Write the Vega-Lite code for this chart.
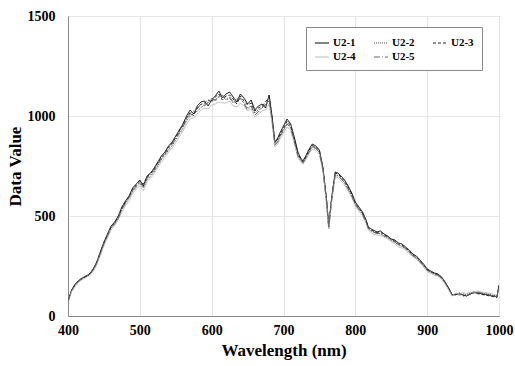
{
  "$schema": "https://vega.github.io/schema/vega-lite/v6.json",
  "width": 431,
  "height": 300,
  "autosize": "none",
  "padding": {"left": 68, "top": 16, "right": 16, "bottom": 50},
  "background": "white",
  "config": {
    "font": "Liberation Serif",
    "view": {"stroke": "#888888", "strokeWidth": 1},
    "axis": {
      "labelFont": "Liberation Serif",
      "labelFontWeight": "bold",
      "labelFontSize": 14,
      "labelColor": "black",
      "titleFont": "Liberation Serif",
      "titleFontWeight": "bold",
      "titleFontSize": 17,
      "titleColor": "black",
      "gridColor": "#e4e4e4",
      "gridWidth": 1,
      "domainColor": "#888888",
      "ticks": false,
      "format": "d"
    },
    "legend": {
      "labelFont": "Liberation Serif",
      "labelFontWeight": "bold",
      "labelFontSize": 11,
      "labelColor": "black"
    }
  },
  "data": {
    "values": [
      {"w":400,"U2-1":75,"U2-2":72,"U2-3":74,"U2-4":70,"U2-5":73},
      {"w":405,"U2-1":130,"U2-2":125,"U2-3":128,"U2-4":122,"U2-5":127},
      {"w":410,"U2-1":160,"U2-2":152,"U2-3":158,"U2-4":148,"U2-5":155},
      {"w":415,"U2-1":178,"U2-2":172,"U2-3":176,"U2-4":170,"U2-5":174},
      {"w":420,"U2-1":190,"U2-2":186,"U2-3":192,"U2-4":182,"U2-5":188},
      {"w":425,"U2-1":200,"U2-2":196,"U2-3":198,"U2-4":192,"U2-5":197},
      {"w":430,"U2-1":210,"U2-2":205,"U2-3":212,"U2-4":202,"U2-5":208},
      {"w":435,"U2-1":235,"U2-2":228,"U2-3":232,"U2-4":222,"U2-5":230},
      {"w":440,"U2-1":270,"U2-2":262,"U2-3":266,"U2-4":255,"U2-5":264},
      {"w":445,"U2-1":320,"U2-2":310,"U2-3":315,"U2-4":302,"U2-5":312},
      {"w":450,"U2-1":370,"U2-2":360,"U2-3":365,"U2-4":350,"U2-5":362},
      {"w":455,"U2-1":410,"U2-2":398,"U2-3":405,"U2-4":392,"U2-5":402},
      {"w":460,"U2-1":450,"U2-2":440,"U2-3":446,"U2-4":430,"U2-5":442},
      {"w":465,"U2-1":470,"U2-2":462,"U2-3":468,"U2-4":452,"U2-5":460},
      {"w":470,"U2-1":500,"U2-2":488,"U2-3":495,"U2-4":480,"U2-5":490},
      {"w":475,"U2-1":545,"U2-2":530,"U2-3":540,"U2-4":520,"U2-5":535},
      {"w":480,"U2-1":575,"U2-2":562,"U2-3":570,"U2-4":552,"U2-5":565},
      {"w":485,"U2-1":600,"U2-2":590,"U2-3":598,"U2-4":575,"U2-5":592},
      {"w":490,"U2-1":640,"U2-2":622,"U2-3":632,"U2-4":612,"U2-5":628},
      {"w":495,"U2-1":660,"U2-2":645,"U2-3":655,"U2-4":635,"U2-5":650},
      {"w":500,"U2-1":680,"U2-2":662,"U2-3":672,"U2-4":650,"U2-5":668},
      {"w":505,"U2-1":650,"U2-2":640,"U2-3":660,"U2-4":625,"U2-5":645},
      {"w":510,"U2-1":700,"U2-2":680,"U2-3":695,"U2-4":672,"U2-5":690},
      {"w":515,"U2-1":715,"U2-2":700,"U2-3":712,"U2-4":690,"U2-5":705},
      {"w":520,"U2-1":740,"U2-2":722,"U2-3":735,"U2-4":712,"U2-5":730},
      {"w":525,"U2-1":770,"U2-2":752,"U2-3":765,"U2-4":742,"U2-5":760},
      {"w":530,"U2-1":800,"U2-2":782,"U2-3":792,"U2-4":770,"U2-5":788},
      {"w":535,"U2-1":820,"U2-2":805,"U2-3":815,"U2-4":792,"U2-5":810},
      {"w":540,"U2-1":850,"U2-2":830,"U2-3":845,"U2-4":820,"U2-5":838},
      {"w":545,"U2-1":870,"U2-2":852,"U2-3":865,"U2-4":840,"U2-5":860},
      {"w":550,"U2-1":900,"U2-2":880,"U2-3":892,"U2-4":868,"U2-5":888},
      {"w":555,"U2-1":930,"U2-2":910,"U2-3":925,"U2-4":895,"U2-5":918},
      {"w":560,"U2-1":960,"U2-2":938,"U2-3":952,"U2-4":925,"U2-5":948},
      {"w":565,"U2-1":1000,"U2-2":975,"U2-3":990,"U2-4":960,"U2-5":985},
      {"w":570,"U2-1":1030,"U2-2":1000,"U2-3":1018,"U2-4":985,"U2-5":1010},
      {"w":575,"U2-1":1010,"U2-2":1015,"U2-3":1000,"U2-4":990,"U2-5":1025},
      {"w":580,"U2-1":1050,"U2-2":1025,"U2-3":1042,"U2-4":1010,"U2-5":1035},
      {"w":585,"U2-1":1070,"U2-2":1040,"U2-3":1058,"U2-4":1030,"U2-5":1060},
      {"w":590,"U2-1":1075,"U2-2":1060,"U2-3":1065,"U2-4":1040,"U2-5":1050},
      {"w":595,"U2-1":1050,"U2-2":1065,"U2-3":1080,"U2-4":1035,"U2-5":1070},
      {"w":600,"U2-1":1080,"U2-2":1090,"U2-3":1070,"U2-4":1055,"U2-5":1085},
      {"w":605,"U2-1":1100,"U2-2":1075,"U2-3":1095,"U2-4":1060,"U2-5":1080},
      {"w":610,"U2-1":1125,"U2-2":1095,"U2-3":1110,"U2-4":1070,"U2-5":1100},
      {"w":615,"U2-1":1090,"U2-2":1100,"U2-3":1080,"U2-4":1065,"U2-5":1105},
      {"w":620,"U2-1":1110,"U2-2":1080,"U2-3":1100,"U2-4":1065,"U2-5":1085},
      {"w":625,"U2-1":1120,"U2-2":1090,"U2-3":1105,"U2-4":1075,"U2-5":1095},
      {"w":630,"U2-1":1095,"U2-2":1065,"U2-3":1085,"U2-4":1050,"U2-5":1070},
      {"w":635,"U2-1":1070,"U2-2":1080,"U2-3":1060,"U2-4":1045,"U2-5":1085},
      {"w":640,"U2-1":1110,"U2-2":1085,"U2-3":1100,"U2-4":1065,"U2-5":1090},
      {"w":645,"U2-1":1090,"U2-2":1065,"U2-3":1075,"U2-4":1050,"U2-5":1060},
      {"w":650,"U2-1":1060,"U2-2":1040,"U2-3":1055,"U2-4":1025,"U2-5":1030},
      {"w":655,"U2-1":1080,"U2-2":1050,"U2-3":1065,"U2-4":1035,"U2-5":1050},
      {"w":660,"U2-1":1030,"U2-2":1015,"U2-3":1025,"U2-4":995,"U2-5":1005},
      {"w":665,"U2-1":1050,"U2-2":1030,"U2-3":1040,"U2-4":1010,"U2-5":1020},
      {"w":670,"U2-1":1060,"U2-2":1040,"U2-3":1050,"U2-4":1025,"U2-5":1045},
      {"w":675,"U2-1":1040,"U2-2":1060,"U2-3":1070,"U2-4":1030,"U2-5":1055},
      {"w":680,"U2-1":1105,"U2-2":1075,"U2-3":1095,"U2-4":1060,"U2-5":1080},
      {"w":684,"U2-1":1000,"U2-2":985,"U2-3":995,"U2-4":965,"U2-5":985},
      {"w":688,"U2-1":870,"U2-2":860,"U2-3":865,"U2-4":845,"U2-5":855},
      {"w":692,"U2-1":890,"U2-2":875,"U2-3":885,"U2-4":860,"U2-5":870},
      {"w":695,"U2-1":915,"U2-2":900,"U2-3":905,"U2-4":885,"U2-5":895},
      {"w":700,"U2-1":950,"U2-2":930,"U2-3":940,"U2-4":915,"U2-5":930},
      {"w":705,"U2-1":985,"U2-2":962,"U2-3":975,"U2-4":945,"U2-5":960},
      {"w":710,"U2-1":960,"U2-2":945,"U2-3":952,"U2-4":930,"U2-5":940},
      {"w":716,"U2-1":880,"U2-2":862,"U2-3":870,"U2-4":850,"U2-5":860},
      {"w":720,"U2-1":820,"U2-2":805,"U2-3":812,"U2-4":792,"U2-5":800},
      {"w":724,"U2-1":790,"U2-2":780,"U2-3":785,"U2-4":770,"U2-5":775},
      {"w":727,"U2-1":775,"U2-2":768,"U2-3":772,"U2-4":758,"U2-5":765},
      {"w":731,"U2-1":800,"U2-2":790,"U2-3":795,"U2-4":780,"U2-5":788},
      {"w":735,"U2-1":830,"U2-2":818,"U2-3":825,"U2-4":808,"U2-5":815},
      {"w":740,"U2-1":860,"U2-2":845,"U2-3":852,"U2-4":835,"U2-5":845},
      {"w":745,"U2-1":850,"U2-2":840,"U2-3":845,"U2-4":828,"U2-5":838},
      {"w":750,"U2-1":830,"U2-2":818,"U2-3":825,"U2-4":808,"U2-5":818},
      {"w":755,"U2-1":740,"U2-2":730,"U2-3":735,"U2-4":720,"U2-5":728},
      {"w":760,"U2-1":580,"U2-2":570,"U2-3":575,"U2-4":560,"U2-5":565},
      {"w":763,"U2-1":450,"U2-2":440,"U2-3":445,"U2-4":435,"U2-5":440},
      {"w":767,"U2-1":590,"U2-2":580,"U2-3":585,"U2-4":570,"U2-5":578},
      {"w":772,"U2-1":720,"U2-2":708,"U2-3":715,"U2-4":698,"U2-5":708},
      {"w":776,"U2-1":715,"U2-2":700,"U2-3":710,"U2-4":692,"U2-5":702},
      {"w":780,"U2-1":700,"U2-2":688,"U2-3":695,"U2-4":678,"U2-5":688},
      {"w":785,"U2-1":680,"U2-2":668,"U2-3":675,"U2-4":655,"U2-5":665},
      {"w":790,"U2-1":650,"U2-2":638,"U2-3":645,"U2-4":625,"U2-5":635},
      {"w":795,"U2-1":615,"U2-2":602,"U2-3":610,"U2-4":592,"U2-5":600},
      {"w":800,"U2-1":570,"U2-2":560,"U2-3":565,"U2-4":550,"U2-5":558},
      {"w":805,"U2-1":545,"U2-2":535,"U2-3":540,"U2-4":525,"U2-5":532},
      {"w":810,"U2-1":520,"U2-2":510,"U2-3":515,"U2-4":500,"U2-5":508},
      {"w":815,"U2-1":480,"U2-2":470,"U2-3":476,"U2-4":462,"U2-5":470},
      {"w":818,"U2-1":445,"U2-2":438,"U2-3":442,"U2-4":430,"U2-5":438},
      {"w":822,"U2-1":435,"U2-2":425,"U2-3":430,"U2-4":418,"U2-5":428},
      {"w":825,"U2-1":430,"U2-2":420,"U2-3":425,"U2-4":410,"U2-5":420},
      {"w":830,"U2-1":420,"U2-2":415,"U2-3":418,"U2-4":405,"U2-5":412},
      {"w":835,"U2-1":425,"U2-2":410,"U2-3":420,"U2-4":402,"U2-5":415},
      {"w":840,"U2-1":410,"U2-2":400,"U2-3":405,"U2-4":395,"U2-5":400},
      {"w":845,"U2-1":400,"U2-2":392,"U2-3":398,"U2-4":385,"U2-5":395},
      {"w":850,"U2-1":385,"U2-2":378,"U2-3":382,"U2-4":370,"U2-5":378},
      {"w":855,"U2-1":380,"U2-2":368,"U2-3":375,"U2-4":362,"U2-5":372},
      {"w":860,"U2-1":365,"U2-2":355,"U2-3":360,"U2-4":345,"U2-5":355},
      {"w":865,"U2-1":360,"U2-2":348,"U2-3":355,"U2-4":340,"U2-5":350},
      {"w":870,"U2-1":345,"U2-2":335,"U2-3":340,"U2-4":330,"U2-5":338},
      {"w":875,"U2-1":330,"U2-2":318,"U2-3":325,"U2-4":312,"U2-5":322},
      {"w":880,"U2-1":310,"U2-2":300,"U2-3":305,"U2-4":295,"U2-5":302},
      {"w":885,"U2-1":300,"U2-2":290,"U2-3":295,"U2-4":285,"U2-5":292},
      {"w":890,"U2-1":280,"U2-2":272,"U2-3":276,"U2-4":265,"U2-5":272},
      {"w":895,"U2-1":260,"U2-2":250,"U2-3":255,"U2-4":245,"U2-5":252},
      {"w":900,"U2-1":235,"U2-2":228,"U2-3":232,"U2-4":222,"U2-5":228},
      {"w":905,"U2-1":225,"U2-2":218,"U2-3":222,"U2-4":212,"U2-5":220},
      {"w":910,"U2-1":215,"U2-2":210,"U2-3":212,"U2-4":205,"U2-5":210},
      {"w":915,"U2-1":210,"U2-2":202,"U2-3":206,"U2-4":198,"U2-5":204},
      {"w":920,"U2-1":195,"U2-2":190,"U2-3":192,"U2-4":185,"U2-5":190},
      {"w":925,"U2-1":170,"U2-2":165,"U2-3":168,"U2-4":160,"U2-5":166},
      {"w":930,"U2-1":140,"U2-2":135,"U2-3":138,"U2-4":130,"U2-5":135},
      {"w":935,"U2-1":105,"U2-2":102,"U2-3":104,"U2-4":100,"U2-5":103},
      {"w":940,"U2-1":108,"U2-2":112,"U2-3":106,"U2-4":115,"U2-5":110},
      {"w":945,"U2-1":112,"U2-2":108,"U2-3":115,"U2-4":110,"U2-5":105},
      {"w":950,"U2-1":105,"U2-2":110,"U2-3":100,"U2-4":118,"U2-5":108},
      {"w":955,"U2-1":100,"U2-2":108,"U2-3":104,"U2-4":112,"U2-5":102},
      {"w":960,"U2-1":110,"U2-2":115,"U2-3":108,"U2-4":120,"U2-5":112},
      {"w":965,"U2-1":118,"U2-2":112,"U2-3":120,"U2-4":115,"U2-5":122},
      {"w":970,"U2-1":115,"U2-2":120,"U2-3":112,"U2-4":125,"U2-5":118},
      {"w":975,"U2-1":112,"U2-2":118,"U2-3":108,"U2-4":120,"U2-5":114},
      {"w":980,"U2-1":108,"U2-2":112,"U2-3":105,"U2-4":118,"U2-5":110},
      {"w":985,"U2-1":105,"U2-2":110,"U2-3":102,"U2-4":115,"U2-5":108},
      {"w":990,"U2-1":100,"U2-2":105,"U2-3":98,"U2-4":110,"U2-5":102},
      {"w":995,"U2-1":98,"U2-2":102,"U2-3":95,"U2-4":106,"U2-5":100},
      {"w":997,"U2-1":95,"U2-2":100,"U2-3":92,"U2-4":105,"U2-5":98},
      {"w":1000,"U2-1":155,"U2-2":140,"U2-3":150,"U2-4":130,"U2-5":145}
    ]
  },
  "transform": [
    {"fold": ["U2-1","U2-2","U2-3","U2-4","U2-5"], "as": ["series","value"]}
  ],
  "mark": {"type": "line", "strokeWidth": 1, "clip": true},
  "encoding": {
    "x": {
      "field": "w", "type": "quantitative",
      "scale": {"domain": [400, 1000], "nice": false},
      "axis": {"values": [400,500,600,700,800,900,1000], "title": "Wavelength (nm)", "labelPadding": 7, "titlePadding": 5, "labelFlush": false}
    },
    "y": {
      "field": "value", "type": "quantitative",
      "scale": {"domain": [0, 1500], "nice": false},
      "axis": {"values": [0,500,1000,1500], "title": "Data Value", "labelPadding": 13, "titlePadding": 3}
    },
    "color": {
      "field": "series", "type": "nominal",
      "scale": {"domain": ["U2-1","U2-2","U2-3","U2-4","U2-5"], "range": ["#000000","#444444","#222222","#bbbbbb","#666666"]},
      "legend": {
        "title": null, "orient": "none", "legendX": 238, "legendY": 11,
        "columns": 3, "direction": "horizontal", "gridAlign": "all", "columnPadding": 15, "rowPadding": 1,
        "symbolType": "stroke", "symbolSize": 200, "symbolStrokeWidth": 1,
        "padding": 8, "strokeColor": "#888888", "fillColor": "white",
        "labelOffset": 3
      }
    },
    "strokeDash": {
      "field": "series", "type": "nominal",
      "scale": {"domain": ["U2-1","U2-2","U2-3","U2-4","U2-5"], "range": [[1,0],[1,1],[3,2],[1,0],[6,2,1,2]]},
      "legend": {
        "title": null, "orient": "none", "legendX": 238, "legendY": 11,
        "columns": 3, "direction": "horizontal", "gridAlign": "all", "columnPadding": 15, "rowPadding": 1,
        "symbolType": "stroke", "symbolSize": 200, "symbolStrokeWidth": 1,
        "padding": 8, "strokeColor": "#888888", "fillColor": "white",
        "labelOffset": 3
      }
    }
  }
}
